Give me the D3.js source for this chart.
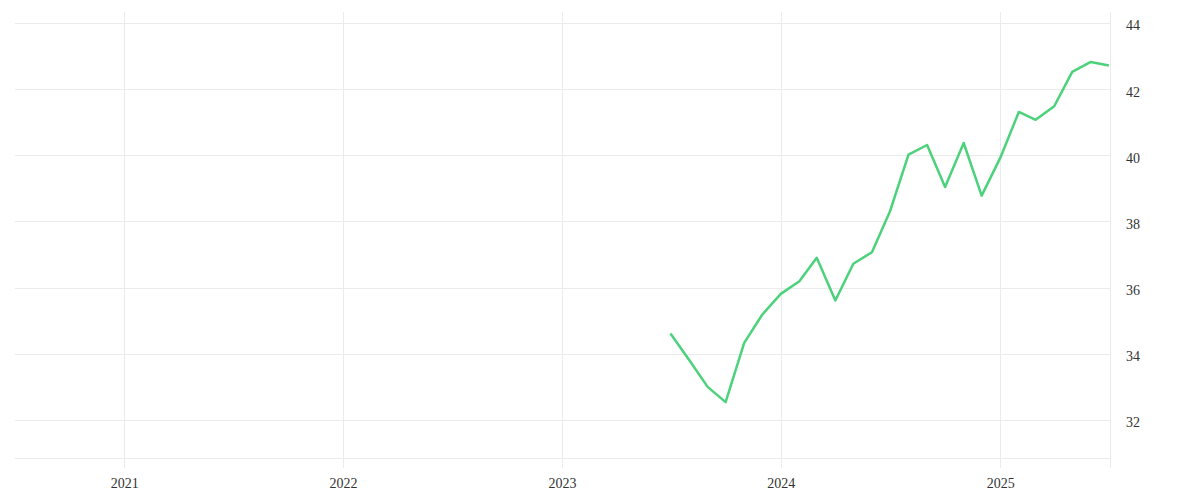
<!DOCTYPE html>
<html>
<head>
<meta charset="utf-8">
<script src="https://cdn.jsdelivr.net/npm/d3@7"></script>
<style>
    body { margin: 0; background: #fff; }
    .tick text { font-family: "Liberation Serif", serif; font-size: 14px; fill: #333; }
</style>
</head>
<body>
<div id="viewportContainer"></div>
<script>
/* --- データ --- */
const months = [
    "2023-07", "2023-08", "2023-09", "2023-10", "2023-11", "2023-12",
    "2024-01", "2024-02", "2024-03", "2024-04", "2024-05", "2024-06",
    "2024-07", "2024-08", "2024-09", "2024-10", "2024-11", "2024-12",
    "2025-01", "2025-02", "2025-03", "2025-04", "2025-05", "2025-06", "2025-07"
];
const values = [
    34.61, 33.82, 33.00, 32.54, 34.33, 35.18,
    35.81, 36.19, 36.90, 35.61, 36.72, 37.07,
    38.30, 40.02, 40.31, 39.04, 40.37, 38.78,
    39.92, 41.31, 41.07, 41.48, 42.52, 42.82, 42.71
];
const yTicks = [32, 34, 36, 38, 40, 42, 44];
const xTickYears = [2021, 2022, 2023, 2024, 2025];

/* --- ビューポート --- */
const viewport = {width: 1200, height: 500};
const plot = {left: 15, right: 1110, top: 12, bottom: 458, gridBottom: 468};

const parseMonth = d3.timeParse("%Y-%m");
const data = months.map((m, i) => ({date: parseMonth(m), value: values[i]}));

const svg = d3.select("#viewportContainer")
    .append("svg")
    .attr("width", viewport.width)
    .attr("height", viewport.height);

/*--- スケール ---*/
const xScale = d3.scaleTime()
    .domain([new Date(2020, 6, 3), new Date(2025, 6, 3)])
    .range([plot.left, plot.right]);

const yScale = d3.scaleLinear()
    .domain([30.85, 44.33])
    .range([plot.bottom, plot.top]);

/*--- グリッド ---*/
const grid = svg.append("g").attr("id", "grid");

grid.selectAll(".hgrid")
    .data(yTicks)
    .enter()
    .append("line")
    .attr("class", "hgrid")
    .attr("x1", plot.left)
    .attr("x2", plot.right)
    .attr("y1", d => Math.round(yScale(d)) + 0.5)
    .attr("y2", d => Math.round(yScale(d)) + 0.5)
    .attr("stroke", "#ebebeb");

// 下端のライン
grid.append("line")
    .attr("x1", plot.left)
    .attr("x2", plot.right)
    .attr("y1", plot.bottom + 0.5)
    .attr("y2", plot.bottom + 0.5)
    .attr("stroke", "#ebebeb");

const yearDates = xTickYears.map(y => new Date(y, 0, 1));

grid.selectAll(".vgrid")
    .data(yearDates)
    .enter()
    .append("line")
    .attr("class", "vgrid")
    .attr("x1", d => Math.round(xScale(d)) + 0.5)
    .attr("x2", d => Math.round(xScale(d)) + 0.5)
    .attr("y1", plot.top)
    .attr("y2", plot.gridBottom)
    .attr("stroke", "#ebebeb");

// 右端のライン
grid.append("line")
    .attr("x1", plot.right + 0.5)
    .attr("x2", plot.right + 0.5)
    .attr("y1", plot.top)
    .attr("y2", plot.gridBottom)
    .attr("stroke", "#ebebeb");

/*--- 軸 ---*/
const xAxis = d3.axisBottom(xScale)
    .tickValues(yearDates)
    .tickFormat(d3.timeFormat("%Y"))
    .tickSize(0)
    .tickPadding(20);

const yAxis = d3.axisRight(yScale)
    .tickValues(yTicks)
    .tickSize(0)
    .tickPadding(16);

svg.append("g")
    .attr("transform", "translate(0," + plot.bottom + ")")
    .call(xAxis)
    .call(g => g.select(".domain").remove());

svg.append("g")
    .attr("transform", "translate(" + plot.right + ",0)")
    .call(yAxis)
    .call(g => g.select(".domain").remove())
    .call(g => g.selectAll(".tick text").attr("dy", "0.5em"));

/*--- ライン ---*/
const line = d3.line()
    .x(d => xScale(d.date))
    .y(d => yScale(d.value));

svg.append("path")
    .datum(data)
    .attr("fill", "none")
    .attr("stroke", "#4bd27b")
    .attr("stroke-width", 2.5)
    .attr("stroke-linejoin", "round")
    .attr("d", line);
</script>
</body>
</html>
